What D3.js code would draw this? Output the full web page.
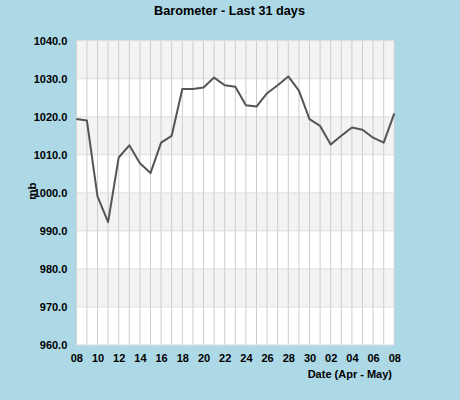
<!DOCTYPE html>
<html>
<head>
<meta charset="utf-8">
<script src="https://cdn.jsdelivr.net/npm/d3@7"></script>
<style>
  body { margin: 0; background: #add8e6; }
  svg { display: block; font-family: "Liberation Sans", Arial, sans-serif; }
</style>
</head>
<body>
<div class="chart-container"></div>
<script>
var width = 460;
var height = 400;
var margin = { top: 40.7, right: 65.7, bottom: 55, left: 76.3 };

// 31 days, 8 Apr .. 8 May
var dayLabels = ["08","09","10","11","12","13","14","15","16","17","18","19","20","21","22","23",
  "24","25","26","27","28","29","30","01","02","03","04","05","06","07","08"];
var pressure = [1019.4, 1019.0, 999.1, 992.3, 1009.3, 1012.5, 1007.8, 1005.2, 1013.2, 1015.0,
  1027.3, 1027.3, 1027.7, 1030.3, 1028.3, 1027.9, 1023.0, 1022.7, 1026.2, 1028.3, 1030.6,
  1026.9, 1019.4, 1017.6, 1012.7, 1015.0, 1017.2, 1016.6, 1014.5, 1013.2, 1020.9];
var yTicks = [960, 970, 980, 990, 1000, 1010, 1020, 1030, 1040];

var innerW = width - margin.left - margin.right;
var innerH = height - margin.top - margin.bottom;

var svg = d3.select(".chart-container")
  .append("svg")
  .attr("width", width)
  .attr("height", height);

var x = d3.scaleLinear().domain([0, dayLabels.length - 1]).range([margin.left, margin.left + innerW]);
var y = d3.scaleLinear().domain([960, 1040]).range([margin.top + innerH, margin.top]);

// plot background + alternate bands
svg.append("rect")
  .attr("x", margin.left)
  .attr("y", margin.top)
  .attr("width", innerW)
  .attr("height", innerH)
  .style("fill", "#ffffff");

var bands = yTicks.slice(0, -1).filter(function (d) { return (d - 960) % 20 == 10; });
svg.selectAll("rect.band")
  .data(bands)
  .enter()
  .append("rect")
  .attr("class", "band")
  .attr("x", margin.left)
  .attr("width", innerW)
  .attr("y", function (d) { return y(d + 10); })
  .attr("height", function (d) { return y(d) - y(d + 10); })
  .style("fill", "#f3f3f3");

// grid lines
svg.selectAll("line.vgrid")
  .data(d3.range(dayLabels.length))
  .enter()
  .append("line")
  .attr("x1", function (d) { return x(d); })
  .attr("x2", function (d) { return x(d); })
  .attr("y1", margin.top)
  .attr("y2", margin.top + innerH)
  .style("stroke", "#cccccc")
  .style("stroke-width", 1);

svg.selectAll("line.hgrid")
  .data(yTicks)
  .enter()
  .append("line")
  .attr("x1", margin.left)
  .attr("x2", margin.left + innerW)
  .attr("y1", function (d) { return y(d); })
  .attr("y2", function (d) { return y(d); })
  .style("stroke", "#dddddd")
  .style("stroke-width", 1);

// axes
var yAxis = d3.axisLeft(y)
  .tickValues(yTicks)
  .tickSize(0)
  .tickPadding(9)
  .tickFormat(function (d) { return d.toFixed(1); });

svg.append("g")
  .attr("transform", "translate(" + margin.left + ",0)")
  .call(yAxis)
  .call(function (g) { g.select(".domain").remove(); })
  .selectAll("text")
  .style("font-size", "11px")
  .style("font-weight", "bold")
  .style("fill", "#000")
  .attr("dy", "0.35em");

var xAxis = d3.axisBottom(x)
  .tickValues(d3.range(0, dayLabels.length, 2))
  .tickSize(0)
  .tickPadding(9)
  .tickFormat(function (d) { return dayLabels[d]; });

svg.append("g")
  .attr("transform", "translate(0," + (margin.top + innerH) + ")")
  .call(xAxis)
  .call(function (g) { g.select(".domain").remove(); })
  .selectAll("text")
  .style("font-size", "11px")
  .style("font-weight", "bold")
  .style("fill", "#000");

// line
var line = d3.line()
  .x(function (d, i) { return x(i); })
  .y(function (d) { return y(d); });

svg.append("path")
  .datum(pressure)
  .attr("d", line)
  .style("fill", "none")
  .style("stroke", "#555555")
  .style("stroke-width", 2)
  .style("stroke-linejoin", "round");

// texts
svg.append("text")
  .attr("x", 229.5)
  .attr("y", 15)
  .attr("text-anchor", "middle")
  .style("font-size", "12.7px")
  .style("font-weight", "bold")
  .text("Barometer - Last 31 days");

svg.append("text")
  .attr("transform", "translate(36,191) rotate(-90)")
  .attr("text-anchor", "middle")
  .style("font-size", "11.5px")
  .style("font-weight", "bold")
  .text("mb");

svg.append("text")
  .attr("x", 392)
  .attr("y", 378)
  .attr("text-anchor", "end")
  .style("font-size", "11px")
  .style("font-weight", "bold")
  .text("Date (Apr - May)");
</script>
</body>
</html>
